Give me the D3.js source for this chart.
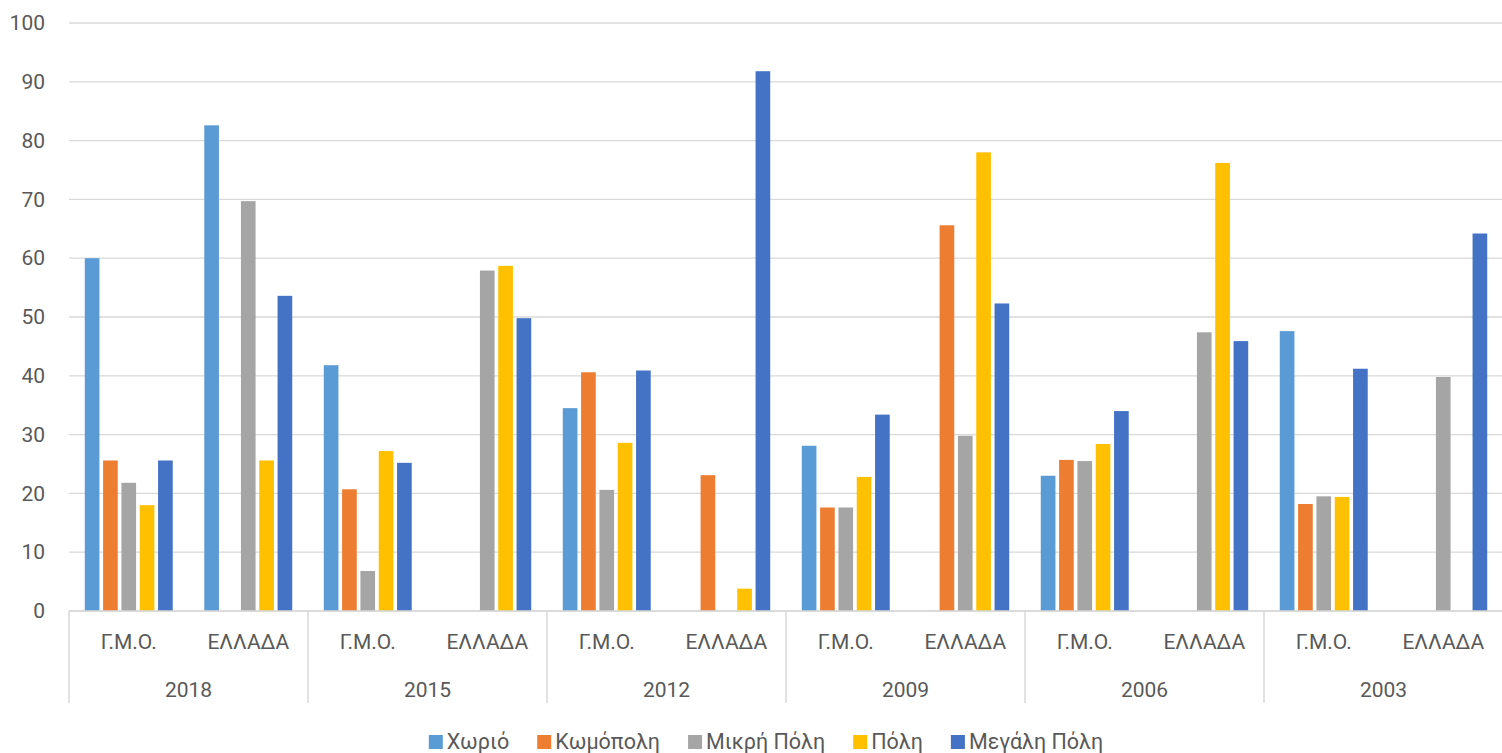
<!DOCTYPE html>
<html>
<head>
<meta charset="utf-8">
<script src="https://cdn.jsdelivr.net/npm/d3@7"></script>
<style>
  body { margin: 0; background: #fff; }
  svg text { font-family: Roboto, "Noto Sans", sans-serif; fill: #595959; }
</style>
</head>
<body>
<div id="container"></div>
<script>
var years = ["2018", "2015", "2012", "2009", "2006", "2003"];
var regions = ["Γ.Μ.Ο.", "ΕΛΛΑΔΑ"];
var seriesNames = ["Χωριό", "Κωμόπολη", "Μικρή Πόλη", "Πόλη", "Μεγάλη Πόλη"];
var seriesColors = ["#5B9BD5", "#ED7D31", "#A5A5A5", "#FFC000", "#4472C4"];
var yTicks = [0, 10, 20, 30, 40, 50, 60, 70, 80, 90, 100];

// one value per year/region pair, in the order 2018 Γ.Μ.Ο., 2018 ΕΛΛΑΔΑ, 2015 Γ.Μ.Ο. ...
var xorio   = [60.0, 82.6, 41.8, null, 34.5, null, 28.1, null, 23.0, null, 47.6, null];
var komopoli = [25.6, null, 20.7, null, 40.6, 23.1, 17.6, 65.6, 25.7, null, 18.2, null];
var mikriPoli = [21.8, 69.7, 6.8, 57.9, 20.6, null, 17.6, 29.8, 25.5, 47.4, 19.5, 39.8];
var poli    = [18.0, 25.6, 27.2, 58.7, 28.6, 3.8, 22.8, 78.0, 28.4, 76.2, 19.4, null];
var megaliPoli = [25.6, 53.6, 25.2, 49.8, 40.9, 91.8, 33.4, 52.3, 34.0, 45.9, 41.2, 64.2];

var seriesValues = [xorio, komopoli, mikriPoli, poli, megaliPoli];

var W = 1502, H = 753;
var mLeft = 69, mRight = 1503, mTop = 23, mBottom = 611;

var cats = [];
years.forEach(function(y){
	regions.forEach(function(r){ cats.push(y + "|" + r); });
});

var svg = d3.select("#container").append("svg")
	.attr("width", W).attr("height", H);

var x0 = d3.scaleBand().domain(cats).range([mLeft, mRight]).padding(0);
var cw = x0.bandwidth();
var x1 = d3.scaleBand().domain(seriesNames)
	.range([cw * 0.132, cw * 0.868]).paddingInner(0.2).paddingOuter(0);
var y = d3.scaleLinear().domain([0, 100]).range([mBottom, mTop]);

// gridlines
svg.append("g").selectAll("line").data(yTicks).enter().append("line")
	.attr("x1", mLeft).attr("x2", mRight)
	.attr("y1", function(d){ return y(d); })
	.attr("y2", function(d){ return y(d); })
	.attr("stroke", "#d9d9d9").attr("stroke-width", 1.3);

// y labels
var yAxis = svg.append("g").attr("transform", "translate(" + (mLeft - 24) + ",0)")
	.call(d3.axisLeft(y).tickValues(yTicks).tickSize(0).tickPadding(0));
yAxis.select(".domain").remove();
yAxis.selectAll("text").style("font-size", "21px").attr("fill", "#595959")
	.style("font-family", "Roboto, 'Noto Sans', sans-serif");

// bars
seriesNames.forEach(function(name, si){
	var vals = seriesValues[si];
	svg.append("g").selectAll("rect")
		.data(cats.map(function(c, i){ return {cat: c, v: vals[i]}; }).filter(function(d){ return d.v != null; }))
		.enter().append("rect")
		.attr("x", function(d){ return x0(d.cat) + x1(name); })
		.attr("width", x1.bandwidth())
		.attr("y", function(d){ return y(d.v); })
		.attr("height", function(d){ return y(0) - y(d.v); })
		.attr("fill", seriesColors[si]);
});

// axis baseline
svg.append("line").attr("x1", mLeft).attr("x2", mRight)
	.attr("y1", mBottom).attr("y2", mBottom)
	.attr("stroke", "#d9d9d9").attr("stroke-width", 1.5);

// year separators
var yearScale = d3.scaleBand().domain(years).range([mLeft, mRight]);
var seps = years.map(function(d){ return yearScale(d); }).concat([mRight]);
svg.append("g").selectAll("line").data(seps).enter().append("line")
	.attr("x1", function(d){ return d; }).attr("x2", function(d){ return d; })
	.attr("y1", mBottom).attr("y2", 703)
	.attr("stroke", "#d9d9d9").attr("stroke-width", 1.5);

// region labels
svg.append("g").selectAll("text").data(cats).enter().append("text")
	.attr("x", function(d){ return x0(d) + cw / 2; })
	.attr("y", 649)
	.attr("text-anchor", "middle")
	.style("font-size", "21px")
	.text(function(d){ return d.split("|")[1]; });

// year labels
svg.append("g").selectAll("text").data(years).enter().append("text")
	.attr("x", function(d){ return yearScale(d) + yearScale.bandwidth() / 2; })
	.attr("y", 697)
	.attr("text-anchor", "middle")
	.style("font-size", "21px")
	.text(function(d){ return d; });

// legend
var legend = svg.append("g");
var items = legend.selectAll("g").data(seriesNames).enter().append("g");
items.append("rect").attr("width", 14).attr("height", 14).attr("y", 735)
	.attr("fill", function(d, i){ return seriesColors[i]; });
items.append("text").attr("x", 18).attr("y", 749)
	.style("font-size", "21.5px")
	.text(function(d){ return d; });
var pos = 0;
var offsets = [];
items.each(function(){
	offsets.push(pos);
	pos += 18 + d3.select(this).select("text").node().getComputedTextLength() + 28;
});
var total = pos - 28;
var start = 766 - total / 2;
items.attr("transform", function(d, i){ return "translate(" + (start + offsets[i]) + ",0)"; });
</script>
</body>
</html>
